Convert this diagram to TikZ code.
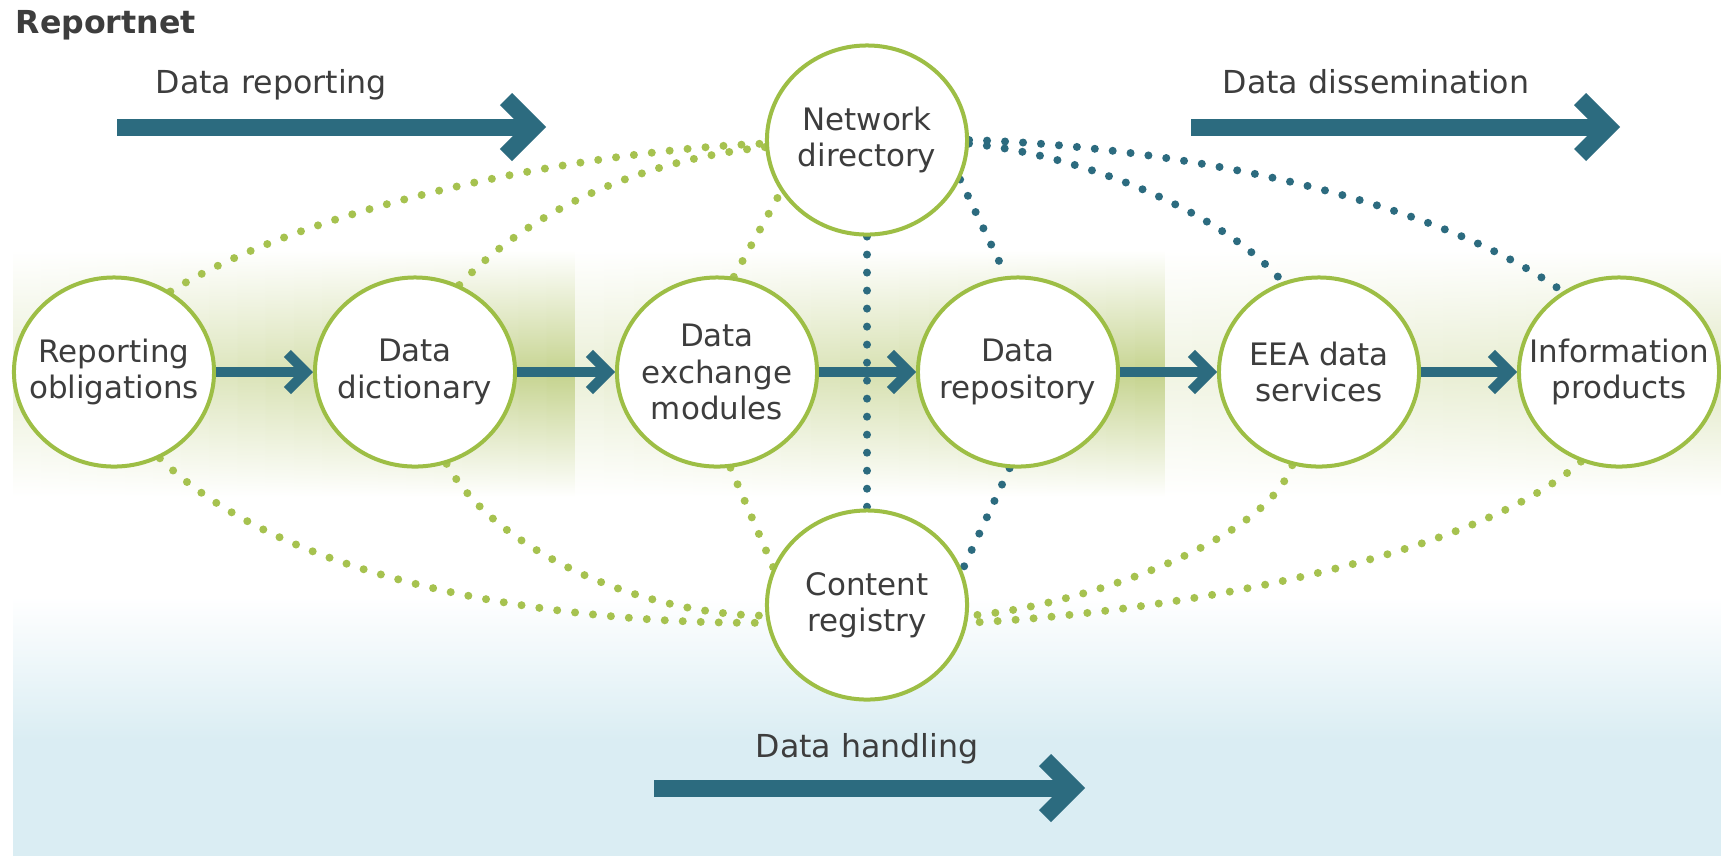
\documentclass[tikz,border=0pt]{standalone}
\usepackage{fontspec}
\setmainfont{DejaVu Sans}
\usetikzlibrary{shapes.geometric}
\definecolor{cgreen}{HTML}{9DBE45}
\definecolor{cdot}{HTML}{A6C24F}
\definecolor{cblue}{HTML}{2C6B7F}
\definecolor{ctext}{HTML}{3D3D3D}
\definecolor{bandg}{HTML}{C5D38E}
\definecolor{cblueb}{HTML}{DAEDF3}
\pgfdeclarelayer{bg}
\pgfdeclarelayer{lines}
\pgfsetlayers{bg,lines,main}
\newcommand\mychev[4]{\draw[#1] ([shift={(-#4-#3,-#3)}]#2) -- ([shift={(-#4,0)}]#2) -- ([shift={(-#4-#3,#3)}]#2);}
\tikzset{
  proc/.style={ellipse, draw=cgreen, line width=0.04cm, fill=white,
    minimum width=2cm, minimum height=1.89cm, inner sep=0pt},
  ptext/.style={align=center, inner sep=0pt, text=ctext, font=\fontsize{8.8}{10.3}\selectfont},
  gdots/.style={draw=cdot, line width=0.08cm, line cap=round, dash pattern=on 0pt off 0.18cm},
  bdots/.style={gdots, draw=cblue},
  bigarr/.style={draw=cblue, line width=0.17cm, line join=miter},
  smallarr/.style={draw=cblue, line width=0.10cm, line join=miter},
  lbl/.style={anchor=base west, text=ctext, font=\fontsize{9}{11}\selectfont, inner sep=0pt},
}
\begin{document}
\begin{tikzpicture}[x=0.01cm,y=-0.01cm]
\useasboundingbox (0,0) rectangle (1721,856);
\begin{pgfonlayer}{bg}
  \fill[white] (0,0) rectangle (1721,856);
  \foreach \xA/\xB/\pA/\pB in {13/575/35/100, 575/1165/35/100, 1165/1721/25/50} {
    \foreach \i in {0,...,19} {
      \pgfmathsetmacro\pp{\pA+(\pB-\pA)*\i/19}
      \pgfmathsetmacro\sx{\xA+(\xB-\xA)*\i/20}
      \pgfmathsetmacro\ex{\xA+(\xB-\xA)*(\i+1)/20+1}
      \shade[top color=white, bottom color=white, middle color=bandg!\pp] (\sx,250) rectangle (\ex,497);
    }
  }
  \shade[top color=white, bottom color=cblueb] (13,597) rectangle (1721,740);
  \fill[cblueb] (13,739) rectangle (1721,856);
\end{pgfonlayer}

\node[lbl] (tReportnet) at (15,33) {\bfseries Reportnet};
\node[lbl] (tRep) at (155,93) {Data reporting};
\node[lbl] (tDis) at (1222,93) {Data dissemination};
\node[lbl] (tHan) at (755,757) {Data handling};

\node[proc] (ro) at (114,372) {};
\node[proc] (dd) at (415,372) {};
\node[proc] (de) at (717,372) {};
\node[proc] (drp) at (1018,372) {};
\node[proc] (eea) at (1319,372) {};
\node[proc] (ip) at (1619,372) {};
\node[proc] (nd) at (867,140) {};
\node[proc] (cr) at (867,605) {};

\node[ptext] (roT) at (ro) {Reporting\\obligations};
\node[ptext] (ddT) at (dd) {Data\\dictionary};
\node[ptext] (deT) at (de) {Data\\exchange\\modules};
\node[ptext] (drpT) at (drp) {Data\\repository};
\node[ptext] (eeaT) at (eea) {EEA data\\services};
\node[ptext] (ipT) at (ip) {Information\\products};
\node[ptext] (ndT) at (nd) {Network\\directory};
\node[ptext] (crT) at (cr) {Content\\registry};

\begin{pgfonlayer}{lines}
  \draw[gdots] (ro.55) .. controls +(150,-92) and +(-165,6) .. (nd.182);
  \draw[gdots] (dd.63) .. controls +(71,-75) and +(-125,13) .. (nd.184);
  \draw[gdots] (de.80) -- (nd.211);
  \draw[gdots] (de.278) -- (cr.158);
  \draw[gdots] (ro.298) .. controls +(140,137) and +(-167,2) .. (cr.190);
  \draw[gdots] (dd.289) .. controls +(48,86) and +(-126,-1) .. (cr.186);
  \draw[gdots] (eea.254) .. controls +(-30,83) and +(92,-6) .. (cr.354);
  \draw[gdots] (ip.247) .. controls +(-113,101) and +(183,-8) .. (cr.350);
  \draw[bdots] (nd.270) -- (cr.90);
  \draw[bdots] (nd.337) -- (drp.97);
  \draw[bdots] (drp.265) -- (cr.20);
  \draw[bdots] (nd.358) .. controls +(111,11) and +(-63,-72) .. (eea.112);
  \draw[bdots] (nd.0) .. controls +(181,5) and +(-143,-102) .. (ip.125);
\end{pgfonlayer}

\foreach \a/\b in {ro/dd, dd/de, de/drp, drp/eea, eea/ip} {
  \draw[smallarr] (\a.east) -- ([shift={(-7,0)}]\b.west);
  \mychev{smallarr}{\b.west}{18.5}{7}
}

\coordinate (drA) at (117,127);
\coordinate (drB) at (546,127);
\draw[bigarr] (drA) -- ([shift={(-12,0)}]drB);
\mychev{bigarr}{drB}{28}{12}
\coordinate (dsA) at (1191,127);
\coordinate (dsB) at (1620,127);
\draw[bigarr] (dsA) -- ([shift={(-12,0)}]dsB);
\mychev{bigarr}{dsB}{28}{12}
\coordinate (dhA) at (654,788);
\coordinate (dhB) at (1085,788);
\draw[bigarr] (dhA) -- ([shift={(-12,0)}]dhB);
\mychev{bigarr}{dhB}{28}{12}
\end{tikzpicture}
\end{document}
